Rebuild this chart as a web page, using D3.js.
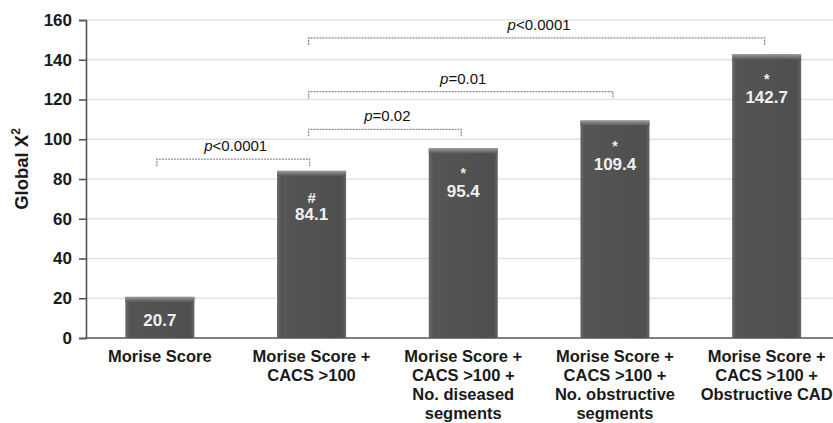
<!DOCTYPE html>
<html>
<head>
<meta charset="utf-8">
<script src="https://cdn.jsdelivr.net/npm/d3@7"></script>
<style>
  html, body { margin: 0; padding: 0; background: #fff; }
  svg { display: block; font-family: "Liberation Sans", Arial, sans-serif; }
</style>
</head>
<body>
<svg id="chart" width="833" height="423"></svg>
<script>
// ---- data ----
const categories = [
  ["Morise Score"],
  ["Morise Score +", "CACS >100"],
  ["Morise Score +", "CACS >100 +", "No. diseased", "segments"],
  ["Morise Score +", "CACS >100 +", "No. obstructive", "segments"],
  ["Morise Score +", "CACS >100 +", "Obstructive CAD"]
];
const values = [20.7, 84.1, 95.4, 109.4, 142.7];
const markers = ["", "#", "*", "*", "*"];
const yTicks = [0, 20, 40, 60, 80, 100, 120, 140, 160];
const bracketFrom = [0, 1, 1, 1];
const bracketTo = [1, 2, 3, 4];
const bracketLevel = [90, 105, 124, 151];
const bracketOp = ["<0.0001", "=0.02", "=0.01", "<0.0001"];

// ---- layout ----
const svg = d3.select("#chart");
const x = d3.scaleBand().domain(d3.range(values.length)).range([84, 842.5])
  .paddingInner(0.545).paddingOuter(0.2725);
const y = d3.scaleLinear().domain([0, 160]).range([338, 20]);

const defs = svg.append("defs");
const gH = defs.append("linearGradient").attr("id", "barH").attr("x1", 0).attr("x2", 1).attr("y1", 0).attr("y2", 0);
gH.append("stop").attr("offset", "0").attr("stop-color", "#6a6a6a");
gH.append("stop").attr("offset", "0.06").attr("stop-color", "#555");
gH.append("stop").attr("offset", "0.94").attr("stop-color", "#4f4f4f");
gH.append("stop").attr("offset", "1").attr("stop-color", "#666");
const gT = defs.append("linearGradient").attr("id", "barT").attr("x1", 0).attr("x2", 0).attr("y1", 0).attr("y2", 1);
gT.append("stop").attr("offset", "0").attr("stop-color", "#9a9a9a");
gT.append("stop").attr("offset", "1").attr("stop-color", "#585858");

// gridlines
svg.append("g").selectAll("line").data(yTicks.filter(d => d > 0)).join("line")
  .attr("x1", 86).attr("x2", 833)
  .attr("y1", d => y(d)).attr("y2", d => y(d))
  .attr("stroke", "#e2e2e2").attr("stroke-width", 1.5);

// y axis
const yAxis = svg.append("g").attr("transform", "translate(86,0)")
  .call(d3.axisLeft(y).tickValues(yTicks).tickSize(7).tickPadding(7));
yAxis.select(".domain").attr("stroke", "#555").attr("stroke-width", 1.6);
yAxis.selectAll(".tick line").attr("stroke", "#555").attr("stroke-width", 1.6);
yAxis.selectAll(".tick text").attr("font-size", 17).attr("font-weight", "bold")
  .attr("fill", "#1a1a1a").attr("font-family", "Liberation Sans, Arial, sans-serif");

// x baseline
svg.append("line").attr("x1", 86).attr("x2", 833).attr("y1", y(0)).attr("y2", y(0))
  .attr("stroke", "#555").attr("stroke-width", 1.6);

// y title
const yt = svg.append("text").attr("transform", "translate(28,169) rotate(-90)")
  .attr("text-anchor", "middle").attr("font-size", 18.5).attr("font-weight", "bold").attr("fill", "#1a1a1a");
yt.append("tspan").text("Global X");
yt.append("tspan").attr("font-size", 12).attr("dy", -8).text("2");

// bars
const bars = svg.append("g").selectAll("g").data(values).join("g");
bars.append("rect")
  .attr("x", (d, i) => x(i)).attr("width", x.bandwidth())
  .attr("y", d => y(d)).attr("height", d => y(0) - y(d))
  .attr("fill", "url(#barH)");
bars.append("rect")
  .attr("x", (d, i) => x(i)).attr("width", x.bandwidth())
  .attr("y", d => y(d)).attr("height", 5)
  .attr("fill", "url(#barT)");

// markers and values
bars.append("text")
  .attr("x", (d, i) => x(i) + x.bandwidth() / 2)
  .attr("y", (d, i) => y(d) + (markers[i] === "#" ? 32 : 30))
  .attr("text-anchor", "middle").attr("fill", "#f0f0f0").attr("font-weight", "bold")
  .attr("font-size", (d, i) => markers[i] === "#" ? 15 : 14)
  .text((d, i) => markers[i]);
bars.append("text")
  .attr("x", (d, i) => x(i) + x.bandwidth() / 2)
  .attr("y", (d, i) => y(d) + (markers[i] ? 49 : 29))
  .attr("text-anchor", "middle").attr("fill", "#f0f0f0").attr("font-weight", "bold")
  .attr("font-size", 17)
  .text(d => d.toFixed(1));

// x labels
const xl = svg.append("g").selectAll("text").data(categories).join("text")
  .attr("text-anchor", "middle").attr("font-size", 16.5).attr("font-weight", "bold").attr("fill", "#1a1a1a")
  .attr("x", (d, i) => x(i) + x.bandwidth() / 2).attr("y", 362);
xl.selectAll("tspan").data(d => d).join("tspan")
  .attr("x", function () { return d3.select(this.parentNode).attr("x"); })
  .attr("dy", (d, j) => j === 0 ? 0 : 19)
  .text(d => d);

// brackets
const cx = i => x(i) + x.bandwidth() / 2;
const br = svg.append("g").selectAll("g").data(bracketLevel).join("g");
br.append("path")
  .attr("d", (d, k) => {
    const x1 = cx(bracketFrom[k]) - 3, x2 = cx(bracketTo[k]) - 2, yy = y(d);
    return `M${x1},${yy + 7}V${yy}H${x2}V${yy + 7}`;
  })
  .attr("fill", "none").attr("stroke", "#8a8a8a").attr("stroke-width", 1.3)
  .attr("stroke-dasharray", "2,1");
const pl = br.append("text")
  .attr("x", (d, k) => (cx(bracketFrom[k]) + cx(bracketTo[k])) / 2)
  .attr("y", d => y(d) - 8)
  .attr("text-anchor", "middle").attr("font-size", 15).attr("fill", "#111");
pl.append("tspan").attr("font-style", "italic").text("p");
pl.append("tspan").text((d, k) => bracketOp[k]);
</script>
</body>
</html>
